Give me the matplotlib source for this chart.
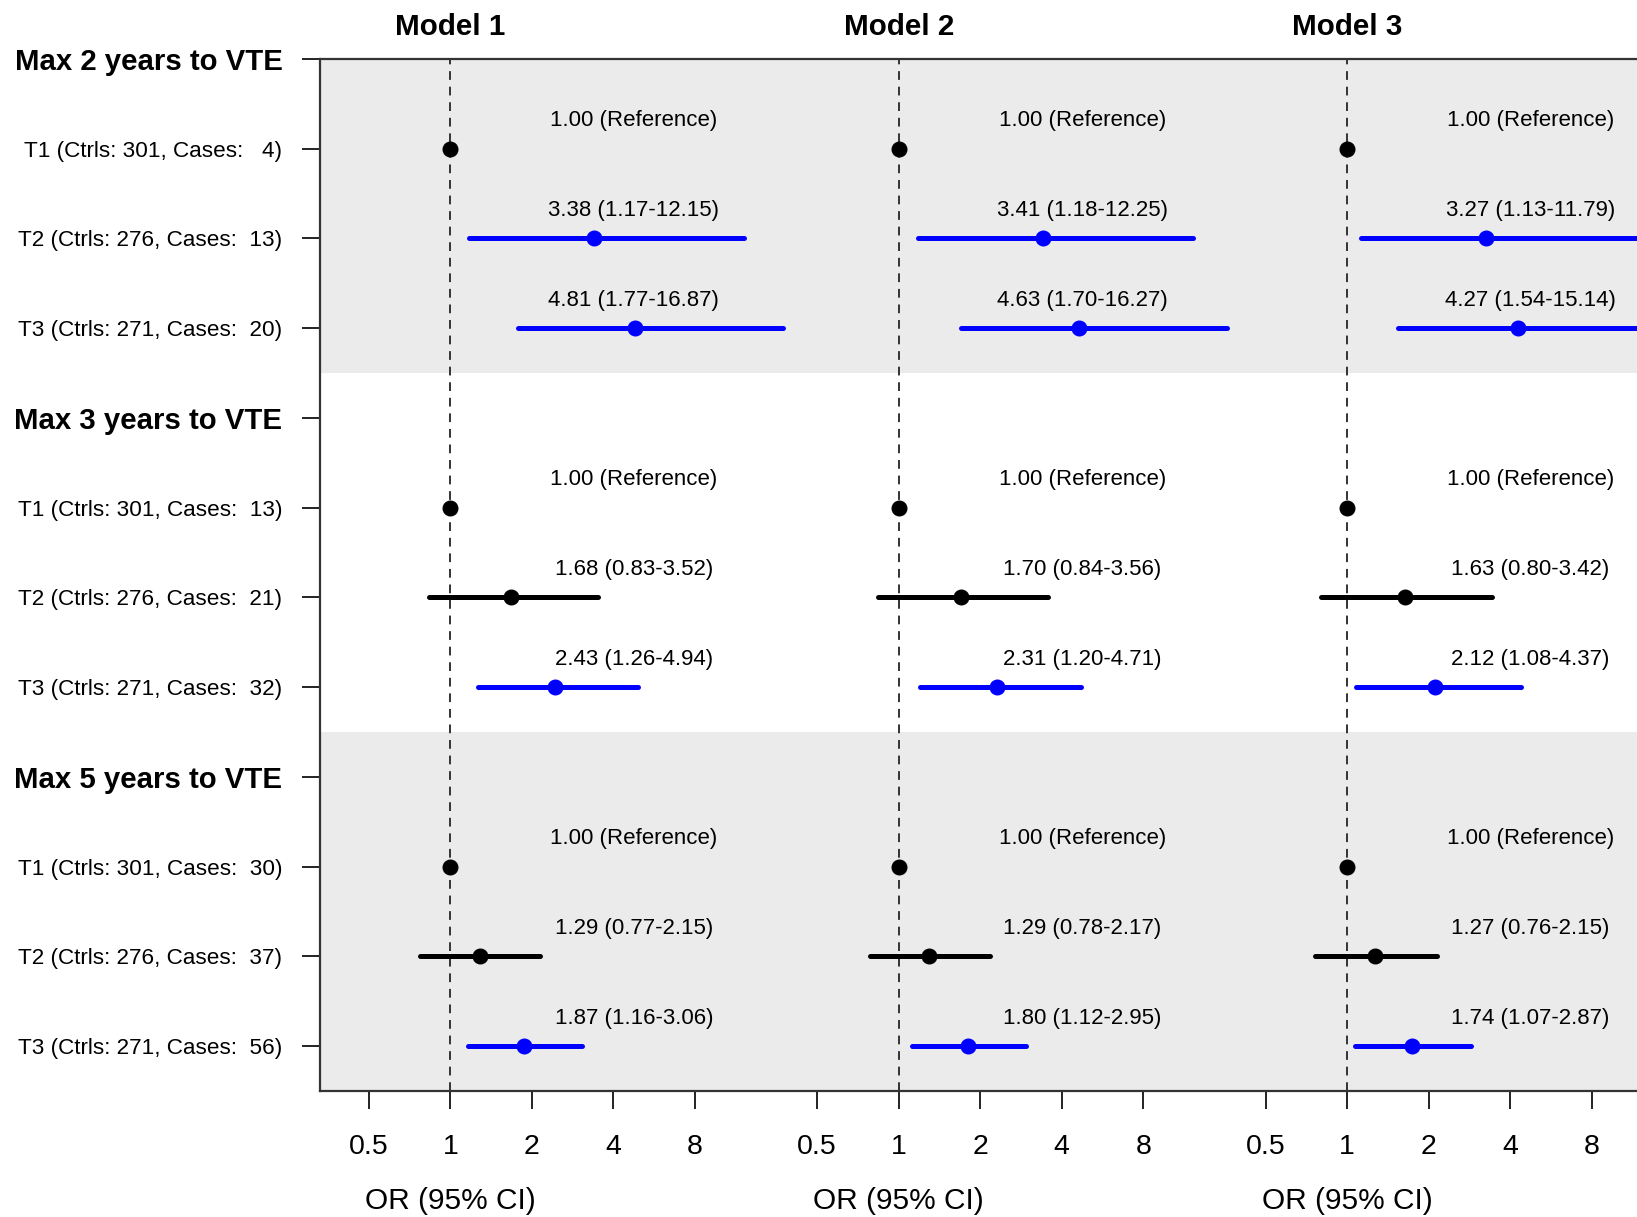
import numpy as np
import matplotlib
matplotlib.use("Agg")
import matplotlib.pyplot as plt

plt.rcParams['font.family'] = ['Liberation Sans', 'DejaVu Sans']

# ---------------- data ----------------
models = ["Model 1", "Model 2", "Model 3"]
groups = ["Max 2 years to VTE", "Max 3 years to VTE", "Max 5 years to VTE"]
tertiles = ["T1", "T2", "T3"]
ctrls = [[301, 276, 271], [301, 276, 271], [301, 276, 271]]
cases = [[4, 13, 20], [13, 21, 32], [30, 37, 56]]

# OR values per model -> group -> tertile (T1 is reference = 1.00)
or_est = [
    [[1.00, 3.38, 4.81], [1.00, 1.68, 2.43], [1.00, 1.29, 1.87]],
    [[1.00, 3.41, 4.63], [1.00, 1.70, 2.31], [1.00, 1.29, 1.80]],
    [[1.00, 3.27, 4.27], [1.00, 1.63, 2.12], [1.00, 1.27, 1.74]],
]
or_lo = [
    [[None, 1.17, 1.77], [None, 0.83, 1.26], [None, 0.77, 1.16]],
    [[None, 1.18, 1.70], [None, 0.84, 1.20], [None, 0.78, 1.12]],
    [[None, 1.13, 1.54], [None, 0.80, 1.08], [None, 0.76, 1.07]],
]
or_hi = [
    [[None, 12.15, 16.87], [None, 3.52, 4.94], [None, 2.15, 3.06]],
    [[None, 12.25, 16.27], [None, 3.56, 4.71], [None, 2.17, 2.95]],
    [[None, 11.79, 15.14], [None, 3.42, 4.37], [None, 2.15, 2.87]],
]
x_ticks = [0.5, 1, 2, 4, 8]
x_ticklabels = ["0.5", "1", "2", "4", "8"]

# ---------------- layout ----------------
W, H = 1637, 1217
fig = plt.figure(figsize=(W / 100, H / 100), dpi=100)
ax_left, ax_right = 320, 1665
ax_top, ax_bot = 59, 1091
ax = fig.add_axes([ax_left / W, 1 - ax_bot / H, (ax_right - ax_left) / W, (ax_bot - ax_top) / H])

panel_w = 5.5
xmin, xmax = -1.6, -1.6 + 3 * panel_w
txt_off = 2.25

n_rows = 12
ax.set_ylim(-(n_rows - 1) - 0.5, 0)
ax.set_xlim(xmin, xmax)

# bands
band_col = "#EBEBEB"
ax.axhspan(-3.5, 0, color=band_col, zorder=0, lw=0)
ax.axhspan(-11.5, -7.5, color=band_col, zorder=0, lw=0)

ylabels = []
yticks = []
blue = "#0000FF"
for g, grp in enumerate(groups):
    base = -4 * g
    yticks.append(base)
    ylabels.append(grp)
    for t in range(3):
        yticks.append(base - 1 - t)
        ylabels.append(f"{tertiles[t]} (Ctrls: {ctrls[g][t]}, Cases: {cases[g][t]:>3})")

for m in range(3):
    off = m * panel_w
    ax.axvline(off + 0.0, color="#333333", lw=1.4, ls=(0, (4.5, 3.5)), zorder=1)
    for g in range(3):
        base = -4 * g
        for t in range(3):
            y = base - 1 - t
            est = or_est[m][g][t]
            lo = or_lo[m][g][t]
            hi = or_hi[m][g][t]
            if lo is None:
                ax.plot(off + np.log2(est), y, "o", color="black", ms=10.5, zorder=3)
                label = f"{est:.2f} (Reference)"
            else:
                col = blue if lo > 1 else "black"
                ax.plot([off + np.log2(lo), off + np.log2(hi)], [y, y], color=col, lw=3.6,
                        solid_capstyle="round", zorder=2)
                ax.plot(off + np.log2(est), y, "o", color=col, ms=10.5, zorder=3)
                label = f"{est:.2f} ({lo:.2f}-{hi:.2f})"
            ax.text(off + txt_off, y + 0.31, label, ha="center", va="center", fontsize=16, zorder=4)
    ax.text(off, 0.355, models[m], ha="center", va="center", fontsize=21.3, fontweight="bold",
            clip_on=False)
    ax.text(off, -12.73, "OR (95% CI)", ha="center", va="center", fontsize=21.5, clip_on=False)

xt = []
xtl = []
for m in range(3):
    for v, lab in zip(x_ticks, x_ticklabels):
        xt.append(m * panel_w + np.log2(v))
        xtl.append(lab)
ax.set_xticks(xt)
ax.set_xticklabels(xtl, fontsize=20.5)
ax.set_yticks(yticks)
ax.set_yticklabels(ylabels, fontsize=16.2)
for lab, yv in zip(ax.get_yticklabels(), yticks):
    if yv % 4 == 0:
        lab.set_fontweight("bold")
        lab.set_fontsize(21.2)

ax.tick_params(axis="y", length=13, width=1.4, pad=14, color="#222222")
ax.tick_params(axis="x", length=13, width=1.4, pad=18, color="#222222")
for s in ["left", "bottom", "top"]:
    ax.spines[s].set_linewidth(1.6)
    ax.spines[s].set_color("#333333")
ax.spines["right"].set_visible(False)

fig.savefig("out.png", dpi=100, facecolor="white")
